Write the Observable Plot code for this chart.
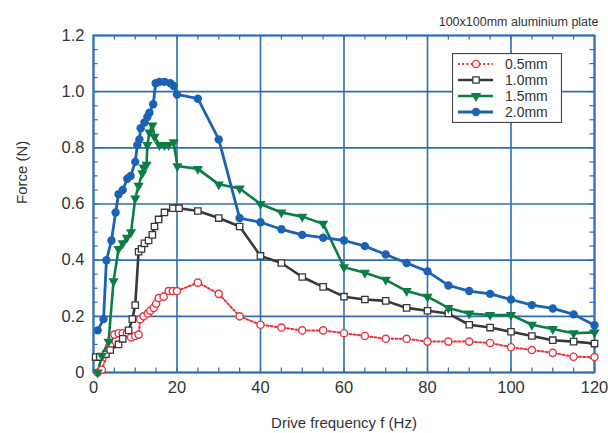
<!DOCTYPE html>
<html>
<head>
<meta charset="utf-8">
<script src="https://cdn.jsdelivr.net/npm/d3@7"></script>
<script src="https://cdn.jsdelivr.net/npm/@observablehq/plot@0.6"></script>
<style>
  html, body { margin: 0; padding: 0; background: #fff; }
  #wrap { position: relative; width: 608px; height: 433px; font-family: "Liberation Sans", Arial, sans-serif; }
  #legend { position: absolute; left: 452px; top: 53px; }
</style>
</head>
<body>
<div id="wrap"></div>
<script>
// ---- data ----
const title = "100x100mm aluminium plate";
const xLabel = "Drive frequency f (Hz)";
const yLabel = "Force (N)";
const xTicks = [0, 20, 40, 60, 80, 100, 120];
const yTicks = [0, 0.2, 0.4, 0.6, 0.8, 1.0, 1.2];
const xMinorTicks = d3.range(0, 121, 5);
const yMinorTicks = d3.range(0, 1.2001, 0.05);
const seriesNames = ["0.5mm", "1.0mm", "1.5mm", "2.0mm"];

const freq05 = [1, 2, 4, 5, 6, 7, 8, 9, 10, 10.8, 11.2, 12, 13, 13.6, 14.4, 15, 15.6, 16.8, 18, 19, 20, 25, 30, 35, 40, 45, 50, 55, 60, 65, 70, 75, 80, 85, 90, 95, 100, 105, 110, 115, 120];
const force05 = [0, 0.01, 0.095, 0.135, 0.14, 0.14, 0.14, 0.125, 0.13, 0.135, 0.19, 0.2, 0.21, 0.22, 0.23, 0.245, 0.265, 0.27, 0.29, 0.29, 0.29, 0.32, 0.28, 0.2, 0.17, 0.16, 0.15, 0.15, 0.14, 0.13, 0.12, 0.12, 0.11, 0.11, 0.11, 0.105, 0.09, 0.08, 0.07, 0.056, 0.055];

const freq10 = [0.5, 1.5, 3, 4, 6, 7, 8.4, 9.3, 10, 10.8, 11.5, 12.2, 13.2, 14.1, 14.6, 15.6, 17, 19, 20.5, 25, 30, 35, 40, 45, 50, 55, 60, 65, 70, 75, 80, 85, 90, 95, 100, 105, 110, 115, 120];
const force10 = [0.055, 0.055, 0.065, 0.08, 0.1, 0.12, 0.15, 0.19, 0.24, 0.43, 0.44, 0.46, 0.47, 0.49, 0.52, 0.545, 0.57, 0.585, 0.585, 0.575, 0.55, 0.52, 0.415, 0.39, 0.34, 0.305, 0.27, 0.26, 0.255, 0.23, 0.22, 0.21, 0.17, 0.16, 0.145, 0.13, 0.115, 0.11, 0.103];

const freq15 = [1, 2, 3.6, 4.8, 6, 7, 8, 9, 10, 10.8, 11.7, 12, 12.7, 12.9, 13.4, 14.1, 14.6, 15.8, 17, 18, 19.2, 20.1, 25, 30, 35, 40, 45, 50, 55, 60, 65, 70, 75, 80, 85, 90, 95, 100, 105, 110, 115, 120];
const force15 = [0, 0.06, 0.11, 0.325, 0.44, 0.46, 0.48, 0.5, 0.62, 0.665, 0.71, 0.73, 0.74, 0.81, 0.855, 0.88, 0.84, 0.81, 0.81, 0.81, 0.82, 0.735, 0.725, 0.67, 0.655, 0.6, 0.57, 0.555, 0.53, 0.375, 0.355, 0.33, 0.29, 0.27, 0.23, 0.21, 0.205, 0.205, 0.17, 0.155, 0.14, 0.143];

const freq20 = [1, 2.4, 3.1, 4.3, 5.3, 6, 7, 8.1, 8.9, 10, 10.5, 11, 11.3, 12.2, 12.9, 13.4, 14.3, 14.9, 15.8, 17, 18.4, 19.2, 20, 25, 30, 35, 40, 45, 50, 55, 60, 65, 70, 75, 80, 85, 90, 95, 100, 105, 110, 115, 120];
const force20 = [0.15, 0.19, 0.4, 0.47, 0.57, 0.635, 0.65, 0.69, 0.7, 0.75, 0.81, 0.83, 0.87, 0.89, 0.91, 0.925, 0.955, 1.03, 1.035, 1.035, 1.03, 1.02, 0.99, 0.975, 0.83, 0.55, 0.535, 0.51, 0.49, 0.48, 0.47, 0.45, 0.42, 0.39, 0.36, 0.31, 0.29, 0.28, 0.26, 0.24, 0.228, 0.207, 0.168];

// ---- styles ----
const frameBlue = "#2f6db5";
const styles = {
  "0.5mm": {color: "#e8333f", dash: "2,2.2", width: 2, symbol: "circle", fill: "white", r: 3.6, rotate: 0, sw: 1.4},
  "1.0mm": {color: "#383838", dash: null, width: 2.6, symbol: "square", fill: "white", r: 3.6, rotate: 0, sw: 1.3},
  "1.5mm": {color: "#0b7d45", dash: null, width: 2.6, symbol: "triangle", fill: "#0b7d45", r: 3.8, rotate: 180, sw: 0},
  "2.0mm": {color: "#1a62b3", dash: null, width: 2.8, symbol: "circle", fill: "#1a62b3", r: 4.2, rotate: 0, sw: 0}
};

const tables = {
  "0.5mm": freq05.map((f, i) => ({f, F: force05[i]})),
  "1.0mm": freq10.map((f, i) => ({f, F: force10[i]})),
  "1.5mm": freq15.map((f, i) => ({f, F: force15[i]})),
  "2.0mm": freq20.map((f, i) => ({f, F: force20[i]}))
};

const seriesMarks = [];
for (const name of seriesNames) {
  const s = styles[name];
  seriesMarks.push(Plot.line(tables[name], {x: "f", y: "F", stroke: s.color, strokeWidth: s.width, strokeDasharray: s.dash, strokeLinejoin: "round"}));
}
for (const name of seriesNames) {
  const s = styles[name];
  seriesMarks.push(Plot.dot(tables[name], {x: "f", y: "F", symbol: s.symbol, r: s.r, fill: s.fill, stroke: s.sw ? s.color : "none", strokeWidth: s.sw, rotate: s.rotate}));
}

const chart = Plot.plot({
  width: 608,
  height: 433,
  marginLeft: 93,
  marginRight: 14,
  marginTop: 35,
  marginBottom: 61,
  style: {fontFamily: "'Liberation Sans', Arial, sans-serif", color: "#333", background: "white", overflow: "visible"},
  x: {domain: [0, 120], label: null},
  y: {domain: [0, 1.2], label: null},
  marks: [
    Plot.gridX(xTicks, {stroke: frameBlue, strokeOpacity: 1, strokeWidth: 1.6}),
    Plot.gridY(yTicks, {stroke: frameBlue, strokeOpacity: 1, strokeWidth: 1.6}),
    Plot.ruleX(xMinorTicks, {x: d => d, y1: 0, y2: 0.016, stroke: frameBlue, strokeWidth: 1.2}),
    Plot.ruleX(xMinorTicks, {x: d => d, y1: 1.2 - 0.016, y2: 1.2, stroke: frameBlue, strokeWidth: 1.2}),
    Plot.ruleY(yMinorTicks, {y: d => d, x1: 0, x2: 1.1, stroke: frameBlue, strokeWidth: 1.2}),
    Plot.ruleY(yMinorTicks, {y: d => d, x1: 120 - 1.1, x2: 120, stroke: frameBlue, strokeWidth: 1.2}),
    Plot.frame({stroke: frameBlue, strokeWidth: 2}),
    Plot.axisX(xTicks, {tickSize: 0, tickPadding: 9, fontSize: 16.5, label: null}),
    Plot.axisY(yTicks, {tickSize: 0, tickPadding: 9, fontSize: 16.5, label: null, tickFormat: d => d === 0 ? "0" : d.toFixed(1)}),
    ...seriesMarks,
    Plot.text([xLabel], {frameAnchor: "bottom", dy: 51, fontSize: 15, lineAnchor: "middle", fill: "#333"}),
    Plot.text([yLabel], {frameAnchor: "left", dx: -71, rotate: -90, fontSize: 15, lineAnchor: "middle", fill: "#333"}),
    Plot.text([title], {frameAnchor: "top-right", dy: -14, dx: 4, textAnchor: "end", lineAnchor: "middle", fontSize: 12.5, fill: "#333"})
  ]
});

const wrap = document.getElementById("wrap");
wrap.appendChild(chart);

// ---- legend ----
const lw = 110, lh = 70;
const leg = d3.select(wrap).append("svg").attr("id", "legend").attr("width", lw).attr("height", lh);
leg.append("rect").attr("x", 0.5).attr("y", 0.5).attr("width", lw - 1).attr("height", lh - 1)
  .attr("fill", "white").attr("stroke", "#444").attr("stroke-width", 1.2);
const symMap = {circle: d3.symbolCircle, square: d3.symbolSquare, triangle: d3.symbolTriangle};
seriesNames.forEach((name, i) => {
  const s = styles[name];
  const cy = 11 + i * 16;
  leg.append("line").attr("x1", 6).attr("x2", 41).attr("y1", cy).attr("y2", cy)
    .attr("stroke", s.color).attr("stroke-width", s.width).attr("stroke-dasharray", s.dash);
  leg.append("path").attr("d", d3.symbol(symMap[s.symbol], Math.PI * s.r * s.r)())
    .attr("transform", `translate(24,${cy}) rotate(${s.rotate})`)
    .attr("fill", s.fill).attr("stroke", s.sw ? s.color : "none").attr("stroke-width", s.sw);
  leg.append("text").attr("x", 53).attr("y", cy).attr("dy", "0.36em")
    .attr("font-size", 14).attr("fill", "#333").attr("font-family", "'Liberation Sans', Arial, sans-serif")
    .text(name);
});
</script>
</body>
</html>
